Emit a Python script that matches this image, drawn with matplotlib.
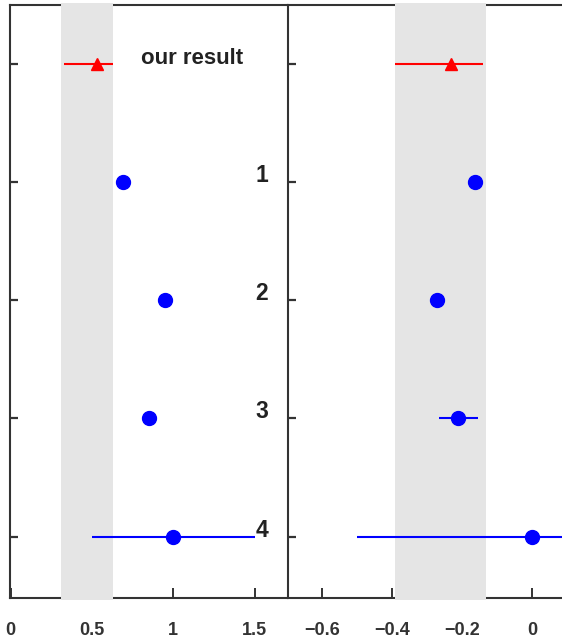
import matplotlib.pyplot as plt
from matplotlib.patches import Rectangle
import matplotlib.transforms as mtransforms

plt.rcParams['font.family'] = ['Liberation Sans', 'DejaVu Sans']

labels = ['our result', '1', '2', '3', '4']
rows = [0, 1, 2, 3, 4]

# left panel
left_val = [0.53, 0.69, 0.95, 0.85, 1.0]
left_lo = [0.20, 0.0, 0.0, 0.0, 0.5]
left_hi = [0.10, 0.0, 0.0, 0.0, 0.5]
left_band = (0.31, 0.63)
left_ticks = [0, 0.5, 1, 1.5]

# right panel
right_val = [-0.23, -0.163, -0.27, -0.21, 0.0]
right_lo = [0.16, 0.0, 0.0, 0.055, 0.5]
right_hi = [0.09, 0.0, 0.0, 0.055, 0.5]
right_band = (-0.39, -0.13)
right_ticks = [-0.6, -0.4, -0.2, 0]

fig = plt.figure(figsize=(5.62, 6.43), dpi=100)
ax1 = fig.add_axes([10/562, 1-598/643, 277/562, 593/643])
ax2 = fig.add_axes([288/562, 1-598/643, 274/562, 593/643])


def panel(ax, val, lo, hi, band, ticks, xlim):
    ax.set_xlim(*xlim)
    ax.set_ylim(4.52, -0.5)
    trans = mtransforms.blended_transform_factory(ax.transData, ax.transAxes)
    ax.add_patch(Rectangle((band[0], -0.003), band[1]-band[0], 1.006, transform=trans,
                           color='#e5e5e5', lw=0, zorder=3, clip_on=False))
    # our result
    ax.errorbar(val[0], rows[0], xerr=[[lo[0]], [hi[0]]], fmt='^', color='red',
                ms=9, elinewidth=1.5, capsize=0, zorder=5)
    # other results
    ax.errorbar(val[1:], rows[1:], xerr=[lo[1:], hi[1:]], fmt='o', color='blue',
                ms=10, elinewidth=1.5, capsize=0, zorder=5)
    ax.set_xticks(ticks)
    ax.set_xticklabels([('%g' % t).replace('-', '\u2212') for t in ticks],
                       fontweight='bold')
    ax.set_yticks(rows)
    ax.set_yticklabels([])
    ax.tick_params(axis='x', direction='in', length=7, width=1.4, color='#333333',
                   pad=17, labelsize=13, labelcolor='#333333')
    ax.tick_params(axis='y', direction='in', length=6, width=1.6, color='#333333')
    for s in ax.spines.values():
        s.set_linewidth(1.5)
        s.set_color('#333333')


panel(ax1, left_val, left_lo, left_hi, left_band, left_ticks, (-0.005, 1.70))
panel(ax2, right_val, right_lo, right_hi, right_band, right_ticks, (-0.697, 0.086))
ax1.spines['right'].set_visible(False)
ax2.spines['right'].set_visible(False)

ax1.text(0.80, 0.0, labels[0], ha='left', va='baseline', fontsize=16,
         fontweight='bold', color='#222222', zorder=6)
for r, lab in zip(rows[1:], labels[1:]):
    ax1.text(1.585, r, lab, ha='right', va='baseline', fontsize=16.5,
             fontweight='bold', color='#222222', zorder=6)

fig.savefig('out.png', dpi=100)
